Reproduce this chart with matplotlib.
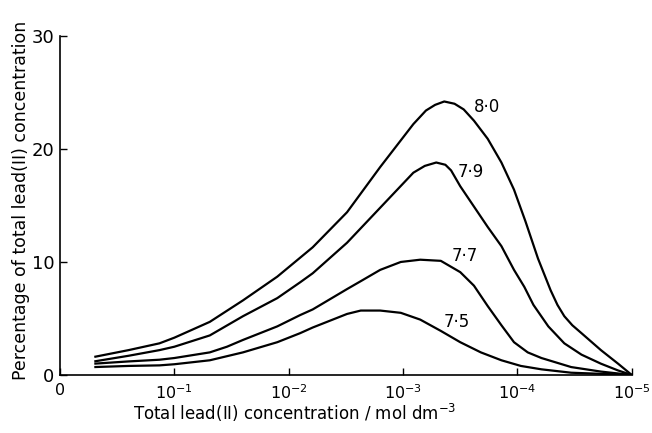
import numpy as np
import matplotlib
matplotlib.use("Agg")
import matplotlib.pyplot as plt

# log10 of total lead(II) concentration / mol dm^-3, and percentage values
logc_80 = [-0.30, -0.60, -0.87, -1.00, -1.31, -1.60, -1.90, -2.21, -2.51, -2.80, -3.09, -3.20,
           -3.28, -3.36, -3.45, -3.53, -3.62, -3.74, -3.86, -3.97, -4.07, -4.18, -4.29, -4.35,
           -4.41, -4.48, -4.56, -4.73, -4.88, -5.0]
pct_80 = [1.6, 2.2, 2.8, 3.3, 4.7, 6.6, 8.7, 11.3, 14.4, 18.4, 22.2, 23.4,
          23.9, 24.2, 24.0, 23.5, 22.5, 20.9, 18.8, 16.4, 13.6, 10.3, 7.5, 6.2,
          5.2, 4.4, 3.7, 2.2, 1.0, 0.0]

logc_79 = [-0.30, -0.60, -0.87, -1.00, -1.31, -1.60, -1.90, -2.10, -2.21, -2.51, -2.80, -3.09,
           -3.19, -3.29, -3.37, -3.42, -3.50, -3.62, -3.74, -3.86, -3.97, -4.06, -4.14, -4.27,
           -4.41, -4.56, -4.73, -4.88, -5.0]
pct_79 = [1.2, 1.7, 2.2, 2.5, 3.5, 5.2, 6.8, 8.2, 9.0, 11.7, 14.8, 17.9,
          18.5, 18.8, 18.6, 18.1, 16.7, 14.9, 13.1, 11.4, 9.3, 7.8, 6.2, 4.3,
          2.8, 1.8, 1.0, 0.4, 0.0]

logc_77 = [-0.30, -0.60, -0.87, -1.00, -1.31, -1.46, -1.60, -1.90, -2.10, -2.21, -2.51, -2.63,
           -2.80, -2.98, -3.15, -3.33, -3.50, -3.62, -3.74, -3.86, -3.97, -4.09, -4.21, -4.47,
           -4.73, -5.0]
pct_77 = [1.0, 1.2, 1.35, 1.5, 2.0, 2.5, 3.1, 4.3, 5.3, 5.8, 7.6, 8.3,
          9.3, 10.0, 10.2, 10.1, 9.1, 7.9, 6.1, 4.4, 2.9, 2.0, 1.5, 0.7,
          0.3, 0.0]

logc_75 = [-0.30, -0.60, -0.87, -1.00, -1.31, -1.60, -1.90, -2.10, -2.21, -2.51, -2.63, -2.80,
           -2.98, -3.15, -3.33, -3.50, -3.68, -3.86, -4.03, -4.21, -4.47, -5.0]
pct_75 = [0.7, 0.8, 0.85, 0.95, 1.3, 2.0, 2.9, 3.7, 4.2, 5.4, 5.7, 5.7,
          5.5, 4.9, 3.9, 2.9, 2.0, 1.3, 0.8, 0.5, 0.2, 0.0]

series_labels = ["8\u00b70", "7\u00b79", "7\u00b77", "7\u00b75"]
label_pos = [(-3.73, 23.7), (-3.59, 18.0), (-3.54, 10.5), (-3.47, 4.7)]

xtick_vals = [1, 1e-1, 1e-2, 1e-3, 1e-4, 1e-5]
xtick_labels = ["0", r"$10^{-1}$", r"$10^{-2}$", r"$10^{-3}$", r"$10^{-4}$", r"$10^{-5}$"]
ytick_vals = [0, 10, 20, 30]

fig = plt.figure(figsize=(6.52, 4.33), dpi=100)
ax = fig.add_axes([0.092, 0.134, 0.877, 0.783])

for lc, pc in [(logc_80, pct_80), (logc_79, pct_79), (logc_77, pct_77), (logc_75, pct_75)]:
    ax.plot(10.0 ** np.array(lc), pc, color="black", lw=1.6,
            solid_joinstyle="round", solid_capstyle="butt")

for lab, (lx, ly) in zip(series_labels, label_pos):
    ax.text(10.0 ** lx, ly, lab, fontsize=12, ha="center", va="center")

ax.set_xscale("log")
ax.set_xlim(1, 1e-5)
ax.set_ylim(0, 30)
ax.set_xticks(xtick_vals)
ax.set_xticklabels(xtick_labels, fontsize=11.5)
ax.xaxis.set_minor_locator(matplotlib.ticker.NullLocator())
ax.set_yticks(ytick_vals)
ax.set_yticklabels([str(v) for v in ytick_vals], fontsize=13)
ax.tick_params(axis="both", direction="in", length=5, width=1.0)
ax.tick_params(axis="x", pad=6)
ax.tick_params(axis="y", pad=4)
for s in ["top", "right"]:
    ax.spines[s].set_visible(False)
for s in ["left", "bottom"]:
    ax.spines[s].set_linewidth(1.2)

ax.set_ylabel("Percentage of total lead(II) concentration", fontsize=12.5)
ax.yaxis.set_label_coords(-0.053, 0.516)
ax.set_xlabel(r"Total lead(II) concentration / mol dm$^{-3}$", fontsize=12)
ax.xaxis.set_label_coords(0.41, -0.08)

fig.savefig("out.png", dpi=100)
